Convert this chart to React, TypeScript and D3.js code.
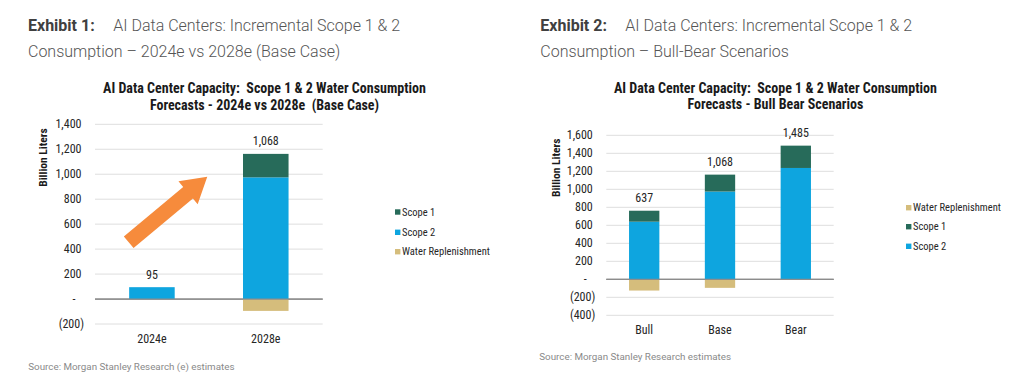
import React from "react";
import * as d3 from "d3";

// ---------- Data ----------
const categoriesA = ["2024e", "2028e"];
const scope2A = [95, 975];
const scope1A = [0, 188];
const waterA = [0, -95];
const totalsA = [95, 1068];
const ticksA = [-200, 0, 200, 400, 600, 800, 1000, 1200, 1400];

const categoriesB = ["Bull", "Base", "Bear"];
const scope2B = [640, 975, 1237];
const scope1B = [122, 188, 248];
const waterB = [-125, -95, 0];
const totalsB = [637, 1068, 1485];
const ticksB = [-400, -200, 0, 200, 400, 600, 800, 1000, 1200, 1400, 1600];

const legendA = ["Scope 1", "Scope 2", "Water Replenishment"];
const legendB = ["Water Replenishment", "Scope 1", "Scope 2"];

const COLORS: Record<string, string> = {
  "Scope 1": "#276b5a",
  "Scope 2": "#0ea5df",
  "Water Replenishment": "#d5bd7c",
};

const NARROW = "'Roboto Condensed', 'Liberation Sans Narrow', 'Arial Narrow', 'DejaVu Sans Condensed', Roboto, sans-serif";
const HEAD = "Roboto, 'Noto Sans', sans-serif";

function fmtTick(v: number) {
  if (v === 0) return "-";
  const s = d3.format(",")(Math.abs(v));
  return v < 0 ? `(${s})` : s;
}

type ChartProps = {
  title: string[];
  titleCx: number;
  titleY: number[];
  categories: string[];
  s2: number[];
  s1: number[];
  w: number[];
  totals: number[];
  ticks: number[];
  x0: number;
  x1: number;
  yTop: number;
  yBot: number;
  axisTitleX: number;
  axisTitleY: number;
  catY: number;
  legend: string[];
  legendX: number;
  legendY: number[];
  arrow?: { from: [number, number]; to: [number, number] };
};

function Chart(p: ChartProps) {
  const dom = d3.extent(p.ticks) as [number, number];
  const y = d3.scaleLinear().domain(dom).range([p.yBot, p.yTop]);
  const x = d3
    .scaleBand<string>()
    .domain(p.categories)
    .range([p.x0, p.x1])
    .paddingInner(0.6)
    .paddingOuter(0.3);

  const rows = p.categories.map((c, i) => ({
    cat: c,
    "Scope 2": p.s2[i],
    "Scope 1": p.s1[i],
    "Water Replenishment": p.w[i],
  }));
  const keys = ["Scope 2", "Scope 1", "Water Replenishment"];
  const series = d3
    .stack<any>()
    .keys(keys)
    .offset(d3.stackOffsetDiverging)(rows);

  const bw = x.bandwidth();

  let arrowPath: string | null = null;
  if (p.arrow) {
    const px = (f: number) => p.x0 + f * (p.x1 - p.x0);
    const ax = px(p.arrow.from[0]);
    const ay = y(p.arrow.from[1]);
    const bx = px(p.arrow.to[0]);
    const by = y(p.arrow.to[1]);
    const dx = bx - ax;
    const dy = by - ay;
    const len = Math.hypot(dx, dy);
    const ux = dx / len;
    const uy = dy / len;
    const nx = -uy;
    const ny = ux;
    const sw = 7.6;
    const hw = 15;
    const hl = 25;
    const hx = bx - ux * hl;
    const hy = by - uy * hl;
    const pts: [number, number][] = [
      [ax + nx * sw, ay + ny * sw],
      [hx + nx * sw, hy + ny * sw],
      [hx + nx * hw, hy + ny * hw],
      [bx, by],
      [hx - nx * hw, hy - ny * hw],
      [hx - nx * sw, hy - ny * sw],
      [ax - nx * sw, ay - ny * sw],
    ];
    arrowPath = "M" + pts.map((q) => q.join(",")).join("L") + "Z";
  }

  return (
    <g>
      {p.title.map((t, i) => (
        <text
          key={i}
          x={p.titleCx}
          y={p.titleY[i]}
          textAnchor="middle"
          dominantBaseline="central"
          fontFamily={NARROW}
          fontWeight="bold"
          fontSize={14}
          fill="#1a1a1a"
          style={{ whiteSpace: "pre" }}
        >
          {t}
        </text>
      ))}
      {/* gridlines */}
      {p.ticks.map((t) => (
        <line
          key={t}
          x1={p.x0}
          x2={p.x1}
          y1={y(t)}
          y2={y(t)}
          stroke={t === 0 ? "#8c8c8c" : "#dedede"}
          strokeWidth={t === 0 ? 1.2 : 1}
        />
      ))}
      {/* tick labels */}
      {p.ticks.map((t) => (
        <text
          key={"l" + t}
          x={t < 0 ? p.x0 - 11 : t === 0 ? p.x0 - 19.5 : p.x0 - 13.5}
          y={y(t)}
          textAnchor="end"
          dominantBaseline="central"
          fontFamily={NARROW}
          fontSize={12}
          fill="#262626"
        >
          {fmtTick(t)}
        </text>
      ))}
      {/* axis title */}
      <text
        transform={`translate(${p.axisTitleX},${p.axisTitleY}) rotate(-90)`}
        textAnchor="middle"
        dominantBaseline="central"
        fontFamily={NARROW}
        fontWeight="bold"
        fontSize={11.5}
        fill="#1a1a1a"
      >
        Billion Liters
      </text>
      {/* bars */}
      {series.map((s) => (
        <g key={s.key} fill={COLORS[s.key]}>
          {s.map((d, i) =>
            d[1] - d[0] === 0 ? null : (
              <rect
                key={i}
                x={x(p.categories[i])}
                width={bw}
                y={y(Math.max(d[0], d[1]))}
                height={Math.abs(y(d[0]) - y(d[1]))}
              />
            )
          )}
        </g>
      ))}
      {/* zero line on top */}
      <line x1={p.x0} x2={p.x1} y1={y(0)} y2={y(0)} stroke="#8c8c8c" strokeWidth={1.2} />
      {/* total labels */}
      {p.categories.map((c, i) => (
        <text
          key={"t" + c}
          x={(x(c) as number) + bw / 2}
          y={y(p.s2[i] + p.s1[i]) - 12.5}
          textAnchor="middle"
          dominantBaseline="central"
          fontFamily={NARROW}
          fontSize={12}
          fill="#262626"
        >
          {d3.format(",")(p.totals[i])}
        </text>
      ))}
      {/* category labels */}
      {p.categories.map((c) => (
        <text
          key={"c" + c}
          x={(x(c) as number) + bw / 2}
          y={p.catY}
          textAnchor="middle"
          dominantBaseline="central"
          fontFamily={NARROW}
          fontSize={12}
          fill="#262626"
        >
          {c}
        </text>
      ))}
      {/* legend */}
      {p.legend.map((k, i) => (
        <g key={"lg" + k}>
          <rect x={p.legendX} y={p.legendY[i] - 2.7} width={5.4} height={5.4} fill={COLORS[k]} />
          <text
            x={p.legendX + 7}
            y={p.legendY[i]}
            dominantBaseline="central"
            fontFamily={NARROW}
            fontSize={10.5}
            fill="#262626"
          >
            {k}
          </text>
        </g>
      ))}
      {arrowPath && <path d={arrowPath} fill="#f68b3c" />}
    </g>
  );
}

export default function App() {
  return (
    <svg
      width={1024}
      height={379}
      style={{ position: "absolute", left: 0, top: 0, background: "#fff" }}
    >
      <rect width={1024} height={379} fill="#fff" />
      {/* Exhibit headers */}
      <text x={28} y={30.5} fontFamily={HEAD} fontSize={16} fontWeight="bold" fill="#404040">
        Exhibit 1:
      </text>
      <text x={113.3} y={30.5} fontFamily={HEAD} fontSize={16} fontWeight={300} fill="#555">
        AI Data Centers: Incremental Scope 1 &amp; 2
      </text>
      <text x={28} y={56.5} fontFamily={HEAD} fontSize={16} fontWeight={300} fill="#555">
        Consumption – 2024e vs 2028e (Base Case)
      </text>
      <text x={540.3} y={30.5} fontFamily={HEAD} fontSize={16} fontWeight="bold" fill="#404040">
        Exhibit 2:
      </text>
      <text x={625.3} y={30.5} fontFamily={HEAD} fontSize={16} fontWeight={300} fill="#555">
        AI Data Centers: Incremental Scope 1 &amp; 2
      </text>
      <text x={540.3} y={56.5} fontFamily={HEAD} fontSize={16} fontWeight={300} fill="#555">
        Consumption – Bull-Bear Scenarios
      </text>

      <Chart
        title={[
          "AI Data Center Capacity:  Scope 1 & 2 Water Consumption",
          "Forecasts - 2024e vs 2028e  (Base Case)",
        ]}
        titleCx={264.5}
        titleY={[88.3, 105]}
        categories={categoriesA}
        s2={scope2A}
        s1={scope1A}
        w={waterA}
        totals={totalsA}
        ticks={ticksA}
        x0={95}
        x1={322.7}
        yTop={124.3}
        yBot={324}
        axisTitleX={43.3}
        axisTitleY={157.5}
        catY={339}
        legend={legendA}
        legendX={395}
        legendY={[212, 232.3, 251.7]}
        arrow={{ from: [0.148, 455], to: [0.493, 980] }}
      />
      <Chart
        title={[
          "AI Data Center Capacity:  Scope 1 & 2 Water Consumption",
          "Forecasts - Bull Bear Scenarios",
        ]}
        titleCx={775.4}
        titleY={[87.7, 103.7]}
        categories={categoriesB}
        s2={scope2B}
        s1={scope1B}
        w={waterB}
        totals={totalsB}
        ticks={ticksB}
        x0={606.3}
        x1={833.7}
        yTop={135.3}
        yBot={315.3}
        axisTitleX={556.3}
        axisTitleY={167.8}
        catY={330}
        legend={legendB}
        legendX={906}
        legendY={[207.7, 226.7, 246.3]}
      />

      <text x={28.3} y={366} dominantBaseline="central" fontFamily={HEAD} fontSize={9.8} fill="#8a8a8a">
        Source: Morgan Stanley Research (e) estimates
      </text>
      <text x={539.3} y={356.7} dominantBaseline="central" fontFamily={HEAD} fontSize={9.8} fill="#8a8a8a">
        Source: Morgan Stanley Research estimates
      </text>
    </svg>
  );
}
